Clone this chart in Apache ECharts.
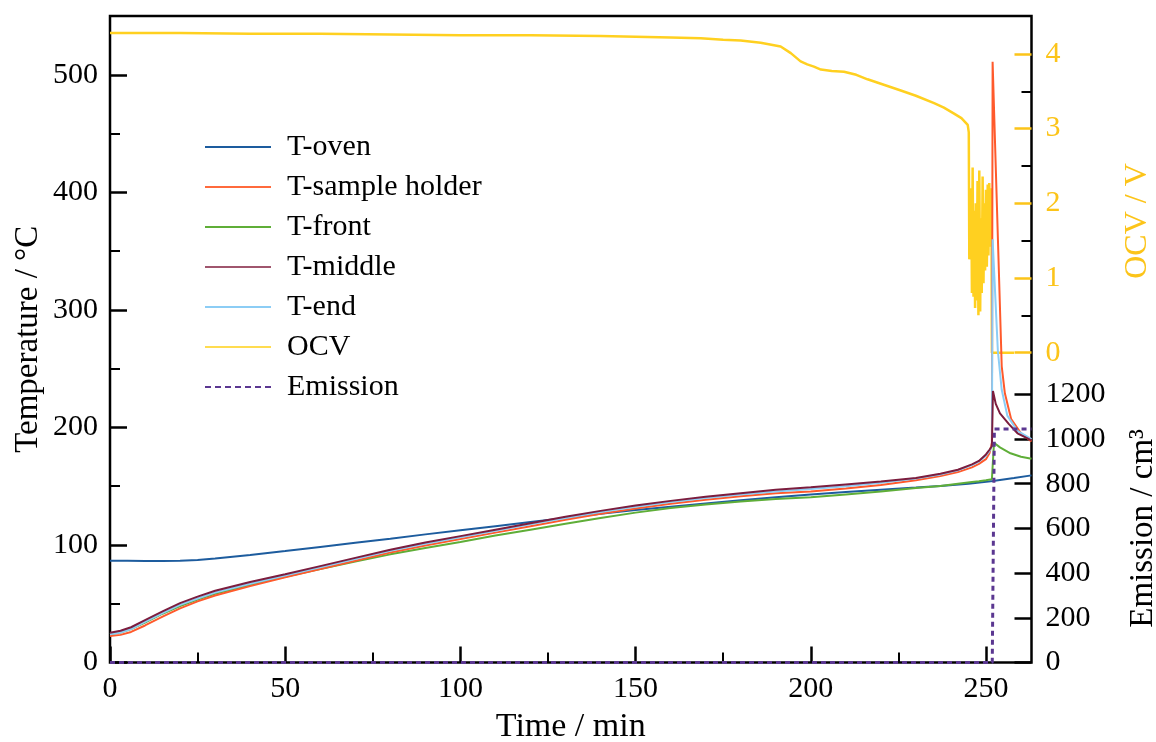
<!DOCTYPE html>
<html>
<head>
<meta charset="utf-8">
<script src="https://cdn.jsdelivr.net/npm/echarts@6/dist/echarts.min.js"></script>
<style>html,body{margin:0;padding:0;background:#fff}#c{width:1156px;height:742px}</style>
</head>
<body>
<div id="c"></div>
<script>
// ---------- DATA ----------
const xTicks = [0, 50, 100, 150, 200, 250];
const tempTicks = [0, 100, 200, 300, 400, 500];
const ocvTicks = [0, 1, 2, 3, 4];
const emissionTicks = [0, 200, 400, 600, 800, 1000, 1200];

const ovenTime = [0, 5, 10, 15, 20, 25, 30, 40, 50, 60, 70, 80, 90, 100, 110, 120, 130, 140, 150, 160, 170, 180, 190, 200, 210, 220, 230, 237, 245, 252, 258, 263];
const ovenVal  = [86.5, 86.6, 86.4, 86.3, 86.6, 87.3, 88.5, 91.5, 94.8, 98.3, 101.8, 105.3, 109, 112.5, 116, 119.5, 123, 126.5, 129.7, 132.5, 135.3, 138, 140.5, 143, 145, 147, 148.8, 150.1, 152, 154.4, 157, 159.2];

const holderTime = [0, 3, 6, 10, 15, 20, 25, 30, 40, 50, 60, 70, 80, 90, 100, 110, 120, 130, 140, 150, 160, 170, 180, 190, 200, 210, 220, 230, 237, 242, 246, 248, 250, 251, 251.7, 251.9, 254.5, 255.4, 257.2, 260, 263];
const holderVal  = [22.5, 23.5, 26, 31.5, 39, 46, 52, 57, 65, 72.5, 79.5, 86.5, 93.5, 99.5, 105, 110.5, 116, 121.5, 126.5, 131, 135, 138.5, 141.5, 144, 145.5, 148, 151, 155, 158.6, 162, 166, 169, 173, 178, 187, 511, 252, 229, 207, 195, 188];

const frontTime = [0, 3, 6, 10, 15, 20, 25, 30, 40, 50, 60, 70, 80, 90, 100, 110, 120, 130, 140, 150, 160, 170, 180, 190, 200, 210, 220, 230, 237, 242, 246, 248, 250, 251.7, 252.3, 254, 257, 260, 263];
const frontVal  = [24, 25.5, 28.5, 34, 41.5, 48, 53.5, 58.5, 66, 73, 79.5, 86, 92, 97.5, 102.5, 108, 113, 118, 123, 127.5, 131.5, 134.5, 137, 139, 140.5, 143, 145.5, 148.5, 150.1, 152, 153.5, 154.2, 155, 156, 187, 183, 178, 175, 173.4];

const middleTime = [0, 3, 6, 10, 15, 20, 25, 30, 40, 50, 60, 70, 80, 90, 100, 110, 120, 130, 140, 150, 160, 170, 180, 190, 200, 210, 220, 230, 237, 242, 246, 248, 250, 251, 251.7, 252.0, 252.8, 254, 256.5, 259, 263];
const middleVal  = [25.3, 27, 30, 36, 43.5, 50.5, 56, 61, 68.5, 75, 82, 89, 96, 102, 107.5, 113, 118.5, 124, 129, 133.5, 137.5, 141, 144, 147, 149, 151.5, 154, 157, 160.5, 164, 168.5, 171.5, 177, 181, 184, 231, 220, 212, 203, 195, 189];

const endTime = [0, 3, 6, 10, 15, 20, 25, 30, 40, 50, 60, 70, 80, 90, 100, 110, 120, 130, 140, 150, 160, 170, 180, 190, 200, 210, 220, 230, 237, 242, 246, 248, 250, 251, 251.7, 251.9, 253.4, 254.5, 256.1, 259, 263];
const endVal  = [24, 25.5, 28.5, 34.5, 42, 49, 54.5, 59.5, 67, 74, 81, 88, 95, 101, 106.5, 112, 117.5, 123, 128, 132.5, 136.5, 140, 143, 145.5, 147.5, 150, 153, 156.5, 160, 163.5, 168, 171, 176, 180, 184, 360, 265, 232, 210, 197, 190];

const ocvTime = [0, 20, 40, 60, 80, 100, 120, 140, 160, 168.6, 175, 180, 185.7, 188, 191.4, 194.3, 197.1, 199, 200.9, 202.9, 206, 209.5, 213, 216.2, 220, 225.7, 230, 235.2, 238, 240.9, 243, 244.8, 245.1, 245.25, 245.5, 245.8, 246.0, 246.2, 246.45, 246.7, 246.9, 247.1, 247.35, 247.6, 247.85, 248.1, 248.35, 248.55, 248.8, 249.05, 249.3, 249.5, 249.75, 250.0, 250.25, 250.5, 250.7, 250.95, 251.2, 251.4, 251.6, 251.7, 258];
const ocvVal  = [4.28, 4.28, 4.27, 4.27, 4.26, 4.25, 4.25, 4.24, 4.22, 4.21, 4.19, 4.18, 4.15, 4.13, 4.10, 4.01, 3.90, 3.86, 3.83, 3.79, 3.77, 3.76, 3.72, 3.66, 3.60, 3.51, 3.44, 3.34, 3.28, 3.20, 3.14, 3.05, 2.95, 1.25, 1.3, 2.2, 0.8, 2.48, 0.75, 1.9, 0.6, 2.0, 0.7, 2.3, 0.5, 2.44, 0.55, 1.8, 0.8, 2.36, 0.93, 2.0, 1.1, 2.18, 1.15, 2.25, 1.3, 2.27, 1.42, 2.2, 1.5, 0.0, 0.0];

const emissionTime = [0, 251.8, 252.4, 263];
const emissionVal  = [0, 0, 1045, 1045];

// ---------- CHART ----------
const pairs = (t, v) => t.map((x, i) => [x, v[i]]);
const FONT = '"Liberation Serif", "Times New Roman", serif';
const YEL = '#ffd020';
const YEL_TXT = '#fcc419';
const PURPLE = '#5b3791';
const X_MAX = 263, T_MAX = 550, OCV_MAX = 4.5;

// plot frame in pixels
const L = 110, R = 1031.5, T = 16, B = 662.5, W = 1156, H = 742;
const xPix = v => L + (R - L) * v / X_MAX;
const tPix = v => B - (B - T) * v / T_MAX;
const OCV0 = 352.7, OCVPX = 74.7;
const EM0 = B, EM1200 = 394.3;

const grid = (top, bottom, right) => ({ left: L, right: W - right, top: top, bottom: H - bottom, show: false, outerBoundsMode: 'none', containLabel: false });

const tickStyle = (len, color) => ({ show: true, inside: true, length: len, lineStyle: { color: color, width: 2.5 } });
const minorStyle = (color) => ({ show: true, splitNumber: 2, length: 10, lineStyle: { color: color, width: 2 } });
const noLine = { show: false, onZero: false };
const plain = v => String(v);

const hidden = (gi, min, max) => ({ type: 'value', gridIndex: gi, min: min, max: max, show: false, axisLine: { show: false, onZero: false } });

const legendLine = 'path://M0,0h66v2h-66z';
const legendDash = 'path://M0,0h6v2h-6z M10,0h6v2h-6z M20,0h6v2h-6z M30,0h6v2h-6z M40,0h6v2h-6z M50,0h6v2h-6z M60,0h6v2h-6z';

const chart = echarts.init(document.getElementById('c'), null, { renderer: 'canvas' });

chart.setOption({
  animation: false,
  backgroundColor: '#fff',
  textStyle: { fontFamily: FONT },
  grid: [
    { left: L, right: W - R, top: T, bottom: H - B, show: true, borderColor: '#000', borderWidth: 2.5, backgroundColor: 'transparent', outerBoundsMode: 'none', containLabel: false }, // 0 temperatures + frame
    grid(OCV0 - OCVPX * OCV_MAX, OCV0, R),      // 1 OCV data
    grid(EM1200, EM0, R),                        // 2 emission
    grid(tPix(500), B, R),                       // 3 temperature tick display
    grid(T, B, xPix(250)),                       // 4 time tick display
    grid(OCV0 - OCVPX * 4, OCV0, R)              // 5 OCV tick display
  ],
  legend: {
    orient: 'vertical', left: 200, top: 127,
    itemWidth: 66, itemHeight: 2, itemGap: 10,
    textStyle: { fontFamily: FONT, fontSize: 30, color: '#000', lineHeight: 30, padding: [0, 0, 0, 11] },
    data: [
      { name: 'T-oven', icon: legendLine },
      { name: 'T-sample holder', icon: legendLine },
      { name: 'T-front', icon: legendLine },
      { name: 'T-middle', icon: legendLine },
      { name: 'T-end', icon: legendLine },
      { name: 'OCV', icon: legendLine },
      { name: 'Emission', icon: legendDash }
    ]
  },
  xAxis: [
    { type: 'value', gridIndex: 0, min: 0, max: X_MAX,
      axisLine: noLine, axisTick: { show: false }, axisLabel: { show: false }, splitLine: { show: false },
      name: 'Time / min', nameLocation: 'middle', nameGap: 48,
      nameTextStyle: { fontFamily: FONT, fontSize: 34, color: '#000' } },
    hidden(1, 0, X_MAX),
    hidden(2, 0, X_MAX),
    hidden(3, 0, X_MAX),
    { type: 'value', gridIndex: 4, min: 0, max: 250, interval: 50,
      axisLine: noLine, splitLine: { show: false },
      axisTick: tickStyle(16, '#000'), minorTick: minorStyle('#000'),
      axisLabel: { fontFamily: FONT, fontSize: 30, color: '#000', margin: 12, formatter: plain } },
    hidden(5, 0, X_MAX)
  ],
  yAxis: [
    { type: 'value', gridIndex: 0, position: 'left', min: 0, max: T_MAX,
      axisLine: noLine, axisTick: { show: false }, axisLabel: { show: false }, splitLine: { show: false },
      name: 'Temperature / °C', nameLocation: 'middle', nameGap: 65, nameRotate: 90,
      nameTextStyle: { fontFamily: FONT, fontSize: 33, color: '#000' } },
    hidden(1, 0, OCV_MAX),
    { type: 'value', gridIndex: 2, position: 'right', min: 0, max: 1200, interval: 200,
      axisLine: noLine, splitLine: { show: false },
      axisTick: tickStyle(17, '#000'),
      axisLabel: { fontFamily: FONT, fontSize: 30, color: '#000', margin: 14, formatter: plain },
      name: 'Emission / cm³', nameLocation: 'middle', nameGap: 95, nameRotate: 90,
      nameTextStyle: { fontFamily: FONT, fontSize: 33, color: '#000' } },
    { type: 'value', gridIndex: 3, position: 'left', min: 0, max: 500, interval: 100,
      axisLine: noLine, splitLine: { show: false },
      axisTick: tickStyle(17, '#000'), minorTick: minorStyle('#000'),
      axisLabel: { fontFamily: FONT, fontSize: 30, color: '#000', margin: 12, formatter: plain } },
    hidden(4, 0, T_MAX),
    { type: 'value', gridIndex: 5, position: 'right', min: 0, max: 4, interval: 1,
      axisLine: noLine, splitLine: { show: false },
      axisTick: tickStyle(17, YEL_TXT), minorTick: minorStyle('#000'),
      axisLabel: { fontFamily: FONT, fontSize: 30, color: YEL_TXT, margin: 14, formatter: plain } }
  ],
  graphic: [
    { type: 'text', x: 1138, y: 221, rotation: Math.PI / 2,
      style: { text: 'OCV / V', fill: YEL_TXT, font: '32px ' + FONT, textAlign: 'center', textVerticalAlign: 'middle' } }
  ],
  series: [
    { name: 'T-oven', type: 'line', xAxisIndex: 0, yAxisIndex: 0, symbol: 'none', data: pairs(ovenTime, ovenVal),
      lineStyle: { color: '#1d5c9e', width: 2 }, itemStyle: { color: '#1d5c9e' }, z: 3 },
    { name: 'T-front', type: 'line', xAxisIndex: 0, yAxisIndex: 0, symbol: 'none', data: pairs(frontTime, frontVal),
      lineStyle: { color: '#5fae38', width: 2 }, itemStyle: { color: '#5fae38' }, z: 3 },
    { name: 'T-sample holder', type: 'line', xAxisIndex: 0, yAxisIndex: 0, symbol: 'none', data: pairs(holderTime, holderVal),
      lineStyle: { color: '#ff5a2c', width: 2 }, itemStyle: { color: '#ff6a3c' }, z: 3 },
    { name: 'T-end', type: 'line', xAxisIndex: 0, yAxisIndex: 0, symbol: 'none', data: pairs(endTime, endVal),
      lineStyle: { color: '#8ccdf5', width: 2 }, itemStyle: { color: '#8ccdf5' }, z: 3 },
    { name: 'T-middle', type: 'line', xAxisIndex: 0, yAxisIndex: 0, symbol: 'none', data: pairs(middleTime, middleVal),
      lineStyle: { color: '#7c1d3e', width: 2 }, itemStyle: { color: '#a0566e' }, z: 3 },
    { name: 'OCV', type: 'line', xAxisIndex: 1, yAxisIndex: 1, symbol: 'none', data: pairs(ocvTime, ocvVal),
      lineStyle: { color: YEL, width: 2.5 }, itemStyle: { color: '#ffdc50' }, z: 2 },
    { name: 'Emission', type: 'line', xAxisIndex: 2, yAxisIndex: 2, symbol: 'none', data: pairs(emissionTime, emissionVal),
      lineStyle: { color: PURPLE, width: 3, type: [5, 4] }, itemStyle: { color: PURPLE }, z: 4 }
  ]
});
</script>
</body>
</html>
